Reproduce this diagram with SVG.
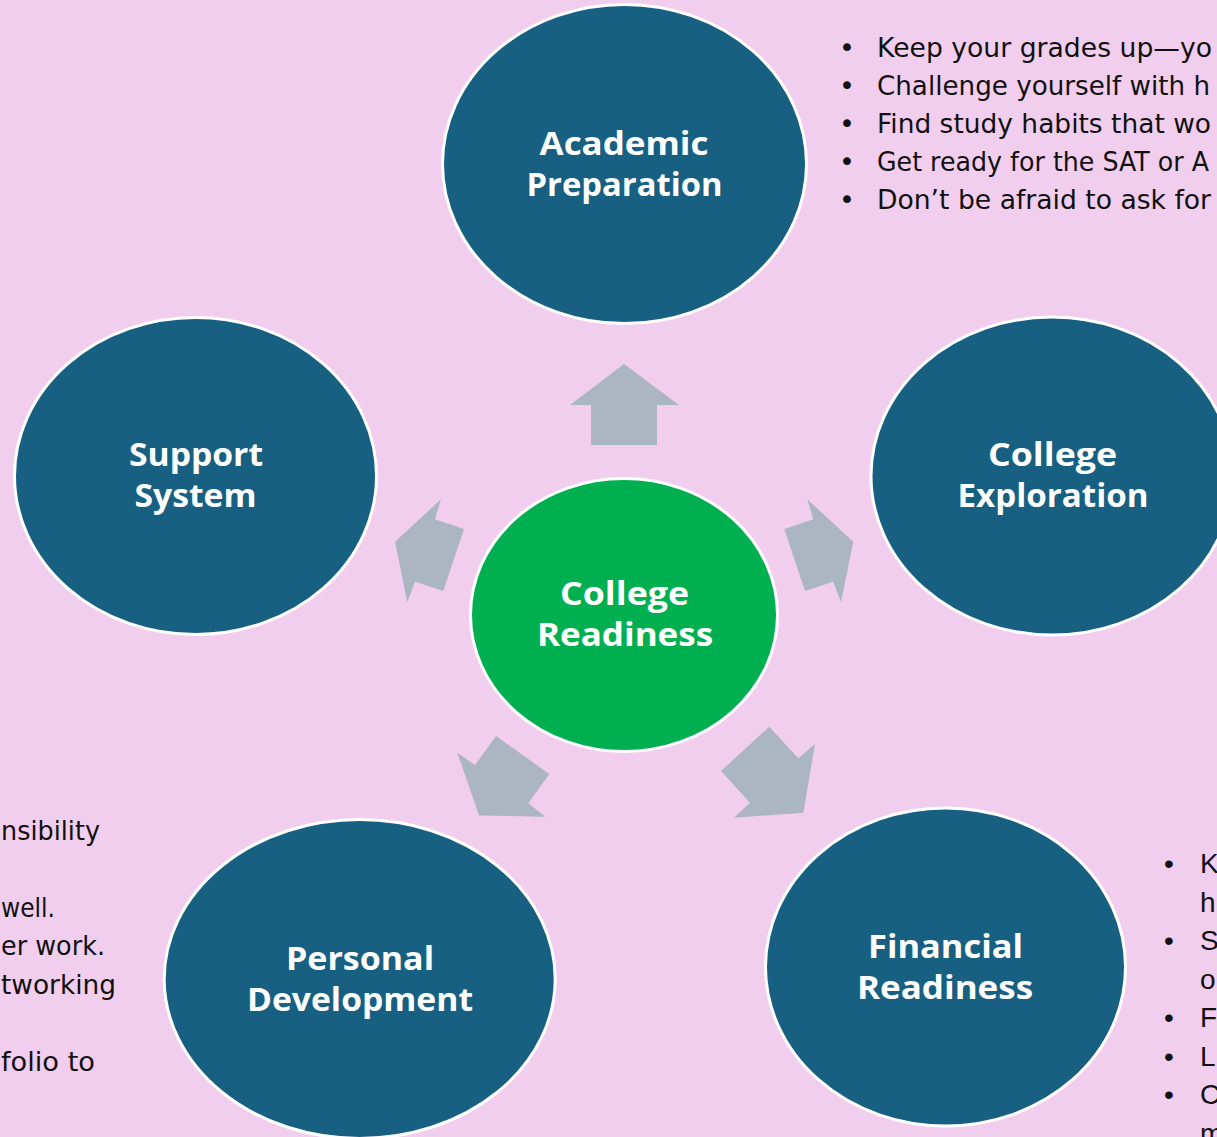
<svg xmlns="http://www.w3.org/2000/svg" width="1217" height="1137" viewBox="0 0 1217 1137">
<style>
.bg{fill:#F2CEEE}
.node{fill:#176082;stroke:#FFFFFF;stroke-width:3}
.center{fill:#00B050;stroke:#FFFFFF;stroke-width:3}
.lbl{font-family:"Open Sans","Liberation Sans",sans-serif;font-weight:700;font-size:32px;fill:#FFFFFF;text-anchor:middle}
.arrow{fill:#ABB6C2}
.body{font-family:"DejaVu Sans","Liberation Sans",sans-serif;font-size:27px;fill:#111111}
.body2{font-family:"Liberation Sans",Arial,sans-serif;font-size:28px;fill:#111111}
.bul{text-anchor:middle}
</style>
<rect class="bg" x="0" y="0" width="1217" height="1137"/>

<g id="connectors">
  <polygon class="arrow" points="624,364 679,405 657,405 657,445 591,445 591,405 570,405"/>
  <polygon class="arrow" points="395,541.7 441,499.3 435,519.3 464,529 443.3,591 415,581.7 407.3,602.3"/>
  <polygon class="arrow" points="853.3,541.7 807.3,499.3 813.3,519.3 784.3,529 805,591 833.3,581.7 841,602.3"/>
  <polygon class="arrow" points="457.3,752.7 475,765 496,736 549.3,774 528.3,803.3 545.3,816.7 479,815.5"/>
  <polygon class="arrow" points="769.3,726.7 798.3,758.3 815,744 803.3,812.7 734,817.7 750,802.7 721,771"/>
</g>

<g id="node-academic">
  <ellipse class="node" cx="624.5" cy="164" rx="182" ry="159.5"/>
  <text class="lbl" x="624" y="155" textLength="169" lengthAdjust="spacingAndGlyphs">Academic</text>
  <text class="lbl" x="624.5" y="196" textLength="196" lengthAdjust="spacingAndGlyphs">Preparation</text>
</g>

<g id="node-support">
  <ellipse class="node" cx="195.5" cy="476" rx="181" ry="158.5"/>
  <text class="lbl" x="196" y="466" textLength="134" lengthAdjust="spacingAndGlyphs">Support</text>
  <text class="lbl" x="195.5" y="507" textLength="122" lengthAdjust="spacingAndGlyphs">System</text>
</g>

<g id="node-exploration">
  <ellipse class="node" cx="1052" cy="476" rx="181" ry="159"/>
  <text class="lbl" x="1052.5" y="466" textLength="129" lengthAdjust="spacingAndGlyphs">College</text>
  <text class="lbl" x="1053" y="507" textLength="191" lengthAdjust="spacingAndGlyphs">Exploration</text>
</g>

<g id="node-readiness">
  <ellipse class="center" cx="624" cy="615" rx="153.5" ry="136.5"/>
  <text class="lbl" x="624.5" y="605" textLength="129" lengthAdjust="spacingAndGlyphs">College</text>
  <text class="lbl" x="625" y="646" textLength="176" lengthAdjust="spacingAndGlyphs">Readiness</text>
</g>

<g id="node-personal">
  <ellipse class="node" cx="359.7" cy="979" rx="195.5" ry="159.5"/>
  <text class="lbl" x="360" y="970" textLength="148" lengthAdjust="spacingAndGlyphs">Personal</text>
  <text class="lbl" x="360" y="1011" textLength="226" lengthAdjust="spacingAndGlyphs">Development</text>
</g>

<g id="node-financial">
  <ellipse class="node" cx="945.5" cy="967" rx="180" ry="159"/>
  <text class="lbl" x="945.5" y="958" textLength="155" lengthAdjust="spacingAndGlyphs">Financial</text>
  <text class="lbl" x="945" y="999" textLength="176" lengthAdjust="spacingAndGlyphs">Readiness</text>
</g>

<g id="notes-academic">
  <text class="body bul" x="847" y="57">•</text>
  <text class="body bul" x="847" y="95">•</text>
  <text class="body bul" x="847" y="133">•</text>
  <text class="body bul" x="847" y="171">•</text>
  <text class="body bul" x="847" y="209">•</text>
  <text class="body" x="877" y="57" textLength="335" lengthAdjust="spacingAndGlyphs">Keep your grades up—yo</text>
  <text class="body" x="877" y="95" textLength="333" lengthAdjust="spacingAndGlyphs">Challenge yourself with h</text>
  <text class="body" x="877" y="133" textLength="334" lengthAdjust="spacingAndGlyphs">Find study habits that wo</text>
  <text class="body" x="877" y="171" textLength="332" lengthAdjust="spacingAndGlyphs">Get ready for the SAT or A</text>
  <text class="body" x="877" y="209" textLength="334" lengthAdjust="spacingAndGlyphs">Don’t be afraid to ask for</text>
</g>

<g id="notes-personal">
  <text class="body" x="1" y="840" textLength="99" lengthAdjust="spacingAndGlyphs">nsibility</text>
  <text class="body" x="1" y="917" textLength="54" lengthAdjust="spacingAndGlyphs">well.</text>
  <text class="body" x="1" y="955" textLength="104" lengthAdjust="spacingAndGlyphs">er work.</text>
  <text class="body" x="1" y="994" textLength="115" lengthAdjust="spacingAndGlyphs">tworking</text>
  <text class="body" x="1" y="1071" textLength="94" lengthAdjust="spacingAndGlyphs">folio to</text>
</g>

<g id="notes-financial">
  <text class="body2 bul" x="1169" y="873">•</text>
  <text class="body2 bul" x="1169" y="950">•</text>
  <text class="body2 bul" x="1169" y="1027">•</text>
  <text class="body2 bul" x="1169" y="1065.5">•</text>
  <text class="body2 bul" x="1169" y="1104">•</text>
  <text class="body2" x="1200" y="873">K</text>
  <text class="body2" x="1200" y="911.5">h</text>
  <text class="body2" x="1200" y="950">S</text>
  <text class="body2" x="1200" y="988.5">o</text>
  <text class="body2" x="1200" y="1027">F</text>
  <text class="body2" x="1200" y="1065.5">L</text>
  <text class="body2" x="1200" y="1104">C</text>
  <text class="body2" x="1200" y="1142.5">m</text>
</g>
</svg>
